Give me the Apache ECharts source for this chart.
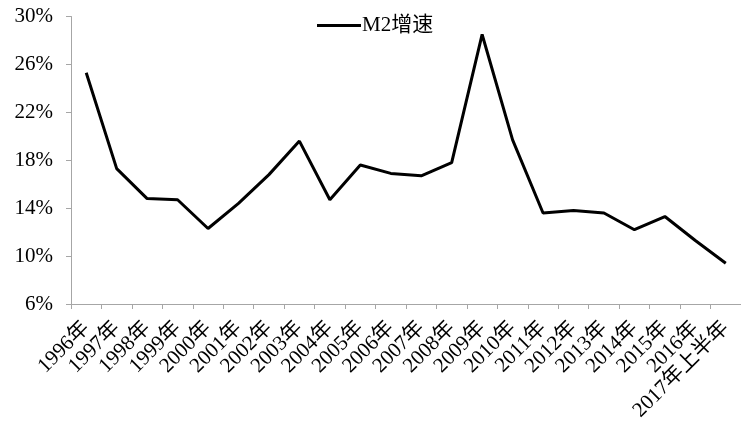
<!DOCTYPE html>
<html>
<head>
<meta charset="utf-8">
<script src="https://cdn.jsdelivr.net/npm/echarts@6/dist/echarts.min.js"></script>
<style>
  html, body { margin: 0; padding: 0; background: #fff; }
  #chart { width: 741px; height: 429px; }
</style>
</head>
<body>
<div id="chart"></div>
<script>
// Annual M2 growth, 1996 to first half of 2017 (%)
const years = ['1996年','1997年','1998年','1999年','2000年','2001年','2002年','2003年','2004年','2005年','2006年',
  '2007年','2008年','2009年','2010年','2011年','2012年','2013年','2014年','2015年','2016年','2017年上半年'];
const m2Growth = [25.3, 17.3, 14.8, 14.7, 12.3, 14.4, 16.8, 19.6, 14.7, 17.6, 16.9,
  16.7, 17.8, 28.5, 19.7, 13.6, 13.8, 13.6, 12.2, 13.3, 11.3, 9.4];
const seriesName = 'M2增速';

const axisGray = '#a6a6a6';
const fontFamily = '"Liberation Serif", "Times New Roman", "Noto Sans CJK SC", serif';

const chart = echarts.init(document.getElementById('chart'), null, { renderer: 'canvas' });
chart.setOption({
  animation: false,
  backgroundColor: '#fff',
  textStyle: { fontFamily: fontFamily },
  legend: {
    data: [seriesName],
    top: 10,
    left: 312,
    itemWidth: 44,
    itemHeight: 3,
    itemGap: 4,
    icon: 'rect',
    textStyle: { fontSize: 21, color: '#000', fontFamily: fontFamily, padding: [0, 0, 0, -4] }
  },
  grid: { left: 71, right: -6, top: 16.5, bottom: 125, containLabel: false },
  xAxis: {
    type: 'category',
    data: years,
    boundaryGap: true,
    axisLine: { lineStyle: { color: axisGray, width: 1 } },
    axisTick: { show: true, length: 5, lineStyle: { color: axisGray } },
    axisLabel: {
      rotate: 45,
      interval: 0,
      margin: 21,
      fontSize: 21,
      color: '#000',
      fontFamily: fontFamily
    }
  },
  yAxis: {
    type: 'value',
    min: 6,
    max: 30,
    interval: 4,
    axisLine: { show: true, lineStyle: { color: axisGray, width: 1 } },
    axisTick: { show: true, length: 5, lineStyle: { color: axisGray } },
    splitLine: { show: false },
    axisLabel: {
      formatter: '{value}%',
      fontSize: 21,
      color: '#000',
      margin: 18,
      fontFamily: fontFamily
    }
  },
  series: [{
    name: seriesName,
    type: 'line',
    data: m2Growth,
    symbol: 'none',
    lineStyle: { color: '#000', width: 3 },
    itemStyle: { color: '#000' }
  }]
});
</script>
</body>
</html>
